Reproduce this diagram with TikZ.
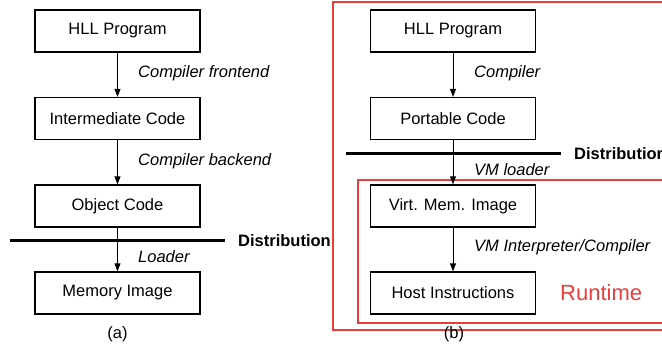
\documentclass[tikz,border=0pt]{standalone}
\usepackage{fontspec}
\setmainfont{Liberation Sans}
\usetikzlibrary{arrows.meta}
\definecolor{rtred}{RGB}{234,62,60}
\tikzset{
  stage/.style={draw, line width=1.3pt, minimum width=165pt, minimum height=42pt,
    inner sep=0pt, font=\fontsize{16.5}{18}\selectfont},
  flow/.style={line width=0.9pt, -{Triangle[length=8pt,width=6pt]}},
  tool/.style={anchor=west, inner sep=0pt, font=\fontsize{16.5}{18}\selectfont\itshape},
  distline/.style={line width=3pt},
  distlabel/.style={anchor=west, inner sep=0pt, font=\fontsize{16.5}{18}\selectfont\bfseries},
  caption/.style={inner sep=0pt, font=\fontsize{16.5}{18}\selectfont},
  zone/.style={draw=rtred, line width=2pt}
}
\begin{document}
\begin{tikzpicture}[x=1pt,y=-1pt]
\useasboundingbox (0,0) rectangle (662,351);

% (a) conventional compilation
\node[stage] (hllA) at (117.5,31) {HLL Program};
\node[stage] (ic)   at (117.5,118.5) {Intermediate Code};
\node[stage] (oc)   at (117.5,206) {Object Code};
\node[stage] (mi)   at (117.5,293) {Memory Image};

\coordinate (dAl) at (10,240.5);
\coordinate (dAr) at (225,240.5);
\draw[distline] (dAl) -- (dAr);
\node[distlabel] (distA) at (238,241) {Distribution};

\draw[flow] (hllA) -- (ic);
\draw[flow] (ic) -- (oc);
\draw[flow] (oc) -- (mi);

\node[tool] (cf) at (138,73) {Compiler frontend};
\node[tool] (cb) at (138,161) {Compiler backend};
\node[tool] (ld) at (138,257) {Loader};

\node[caption] (capA) at (117.5,334) {(a)};

% (b) virtual machine based execution
\draw[zone] (333,2) rectangle (665,330);
\draw[zone] (358,180) rectangle (665,322.5);

\node[stage] (hllB) at (453,31) {HLL Program};
\node[stage] (pc)   at (453,118.5) {Portable Code};
\node[stage] (vmi)  at (453,206) {Virt. Mem. Image};
\node[stage] (hi)   at (453,293) {Host Instructions};

\coordinate (dBl) at (346,153.5);
\coordinate (dBr) at (561,153.5);
\draw[distline] (dBl) -- (dBr);
\node[distlabel] (distB) at (574,154) {Distribution};

\draw[flow] (hllB) -- (pc);
\draw[flow] (pc) -- (vmi);
\draw[flow] (vmi) -- (hi);

\node[tool] (cmp) at (474,73) {Compiler};
\node[tool] (vml) at (474,170) {VM loader};
\node[tool] (vmic) at (474,247.5) {VM Interpreter/Compiler};

\node[anchor=west, inner sep=0pt, text=rtred, font=\fontsize{22}{24}\selectfont] (rt) at (560,293) {Runtime};

\node[caption] (capB) at (454,334) {(b)};
\end{tikzpicture}
\end{document}
